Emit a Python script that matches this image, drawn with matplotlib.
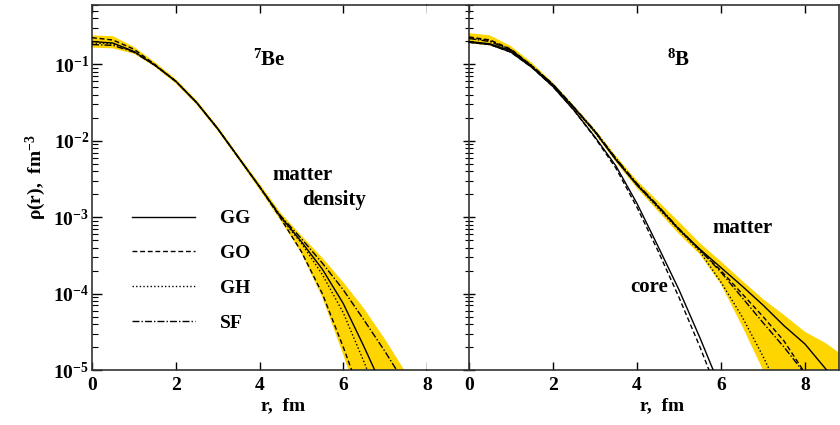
import numpy as np
import matplotlib
matplotlib.use("Agg")
import matplotlib.pyplot as plt
from matplotlib.ticker import LogLocator, NullFormatter, FixedLocator, FixedFormatter

plt.rcParams["font.family"] = ["Liberation Serif", "DejaVu Serif"]
plt.rcParams["font.weight"] = "bold"
plt.rcParams["mathtext.fontset"] = "custom"
plt.rcParams["mathtext.rm"] = "Liberation Serif:bold"
plt.rcParams["mathtext.bf"] = "Liberation Serif:bold"
plt.rcParams["mathtext.it"] = "Liberation Serif:bold:italic"
plt.rcParams["mathtext.default"] = "bf"

# ---- data: r in fm, log10 of rho in fm^-3 ----
# 7Be, matter density
be_r = [0, 0.5, 1.0, 1.5, 2.0, 2.5, 3.0, 3.5, 4.0, 4.5, 5.0, 5.5, 6.0, 6.5, 7.0, 7.5]
be_gg = [-0.70, -0.72, -0.83, -1.01, -1.22, -1.50, -1.84, -2.22, -2.60, -2.99, -3.32, -3.68, -4.13, -4.70, -5.30, -5.9]
be_go = [-0.65, -0.68, -0.80, -1.00, -1.22, -1.50, -1.84, -2.22, -2.60, -3.01, -3.45, -4.00, -4.70, -5.45, -6.1, -6.7]
be_gh = [-0.72, -0.73, -0.83, -1.01, -1.22, -1.50, -1.84, -2.22, -2.60, -3.00, -3.34, -3.75, -4.25, -4.90, -5.6, -6.2]
be_sf = [-0.74, -0.75, -0.84, -1.01, -1.22, -1.50, -1.84, -2.22, -2.60, -2.98, -3.28, -3.60, -3.95, -4.35, -4.76, -5.20]
be_lo = [-0.78, -0.79, -0.86, -1.03, -1.25, -1.53, -1.87, -2.25, -2.64, -3.04, -3.47, -4.05, -4.80, -5.60, -6.3, -7.0]
be_hi = [-0.62, -0.63, -0.77, -0.97, -1.19, -1.47, -1.81, -2.19, -2.56, -2.94, -3.24, -3.53, -3.85, -4.20, -4.60, -5.04]

# 8B, matter density
b_r = [0, 0.5, 1.0, 1.5, 2.0, 2.5, 3.0, 3.5, 4.0, 4.5, 5.0, 5.5, 6.0, 6.5, 7.0, 7.5, 8.0, 8.5, 9.0]
b_gg = [-0.70, -0.73, -0.82, -1.03, -1.27, -1.57, -1.88, -2.25, -2.58, -2.86, -3.16, -3.42, -3.66, -3.90, -4.15, -4.42, -4.66, -4.99, -5.3]
b_go = [-0.64, -0.68, -0.80, -1.02, -1.26, -1.56, -1.88, -2.24, -2.57, -2.86, -3.16, -3.43, -3.70, -4.00, -4.30, -4.62, -5.04, -5.5, -6.0]
b_gh = [-0.65, -0.69, -0.81, -1.02, -1.27, -1.57, -1.89, -2.25, -2.58, -2.88, -3.17, -3.45, -3.85, -4.30, -4.82, -5.4, -6.0, -6.6, -7.2]
b_sf = [-0.66, -0.70, -0.81, -1.02, -1.26, -1.56, -1.87, -2.23, -2.56, -2.85, -3.15, -3.43, -3.72, -4.05, -4.38, -4.70, -5.05, -5.5, -6.0]
b_lo = [-0.72, -0.75, -0.84, -1.05, -1.29, -1.59, -1.91, -2.28, -2.62, -2.92, -3.22, -3.49, -3.88, -4.42, -5.00, -5.5, -6.0, -6.5, -7.0]
b_hi = [-0.59, -0.62, -0.76, -0.98, -1.24, -1.54, -1.85, -2.20, -2.52, -2.79, -3.06, -3.34, -3.58, -3.83, -4.07, -4.28, -4.50, -4.65, -4.85]

# 8B, core density
core_r = [0, 0.5, 1.0, 1.5, 2.0, 2.5, 3.0, 3.5, 4.0, 4.5, 5.0, 5.5, 6.0]
core_gg = [-0.71, -0.74, -0.84, -1.04, -1.29, -1.60, -1.95, -2.33, -2.82, -3.38, -3.95, -4.58, -5.25]
core_go = [-0.71, -0.74, -0.84, -1.04, -1.29, -1.60, -1.96, -2.36, -2.87, -3.44, -4.05, -4.70, -5.40]

models = ["GG", "GO", "GH", "SF"]
yticks = [1e-5, 1e-4, 1e-3, 1e-2, 1e-1]
ytick_labels = [r"$10^{-5}$", r"$10^{-4}$", r"$10^{-3}$", r"$10^{-2}$", r"$10^{-1}$"]
xticks = [0, 2, 4, 6, 8]

styles = {"GG": "-", "GO": (0, (3.5, 2.0)), "GH": (0, (1.0, 1.6)), "SF": (0, (5.0, 1.5, 1.0, 1.5))}
band_color = "#FFD500"
fs = 14


def rho(lg):
    return 10.0 ** np.array(lg)


fig = plt.figure(figsize=(8.4, 4.25), dpi=100)
bottom, height = 55 / 425, 365 / 425
ax1 = fig.add_axes([92 / 840, bottom, 335 / 840, height])
ax2 = fig.add_axes([427 / 840, bottom, 412 / 840, height])

# left: 7Be
ax1.fill_between(be_r, rho(be_lo), rho(be_hi), color=band_color, lw=0, zorder=1)
for name, lg in zip(models, [be_gg, be_go, be_gh, be_sf]):
    ax1.plot(be_r, rho(lg), color="black", lw=1.0, linestyle=styles[name], label=name, zorder=3)

# right: 8B
ax2.fill_between(b_r, rho(b_lo), rho(b_hi), color=band_color, lw=0, zorder=1)
for name, lg in zip(models, [b_gg, b_go, b_gh, b_sf]):
    ax2.plot(b_r, rho(lg), color="black", lw=1.0, linestyle=styles[name], zorder=3)
ax2.plot(core_r, rho(core_gg), color="black", lw=1.0, linestyle=styles["GG"], zorder=3)
ax2.plot(core_r, rho(core_go), color="black", lw=1.0, linestyle=styles["GO"], zorder=3)

for ax in (ax1, ax2):
    ax.set_yscale("log")
    ax.set_ylim(1e-5, 0.6)
    ax.yaxis.set_major_locator(FixedLocator(yticks))
    ax.yaxis.set_minor_locator(LogLocator(base=10, subs=np.arange(2, 10)))
    ax.yaxis.set_minor_formatter(NullFormatter())
    ax.set_xticks(xticks)
    ax.set_xticklabels([str(t) for t in xticks], fontsize=fs, fontweight="bold")
    ax.tick_params(axis="x", which="both", direction="in", top=True, length=6, width=1, pad=5)
    for sp in ax.spines.values():
        sp.set_linewidth(1.2)
        sp.set_color("#333333")
    ax.set_xlabel("r,  fm", fontsize=fs, fontweight="bold")
    ax.xaxis.set_label_coords(0.57, -0.075)

ax1.set_xlim(0, 8)
ax1.spines["right"].set_visible(False)
ax1.yaxis.set_major_formatter(FixedFormatter(ytick_labels))
ax1.tick_params(axis="y", which="major", direction="in", length=7, width=1, labelsize=fs, pad=2)
ax1.tick_params(axis="y", which="minor", direction="in", length=4, width=0.8)

ax2.set_xlim(-1, 8.81)
ax2.spines["left"].set_position(("data", 0))
ax2.tick_params(axis="y", which="major", direction="inout", length=9, width=1, labelleft=False)
ax2.tick_params(axis="y", which="minor", direction="inout", length=6, width=0.8, labelleft=False)

fig.text(36 / 840, 1 - 177 / 425, r"ρ(r),  fm$^{-3}$", rotation=90, ha="center", va="center",
         fontsize=fs, fontweight="bold")

ax1.text(0.48, 0.85, r"$^{7}$Be", transform=ax1.transAxes, fontsize=fs + 1, ha="left", va="center")
ax1.text(0.54, 0.534, "matter", transform=ax1.transAxes, fontsize=fs + 1, ha="left", va="center")
ax1.text(0.627, 0.466, "density", transform=ax1.transAxes, fontsize=fs + 1, ha="left", va="center")
ax2.text(0.583, 0.85, r"$^{8}$B", transform=ax2.transAxes, fontsize=fs + 1, ha="left", va="center")
ax2.text(0.694, 0.389, "matter", transform=ax2.transAxes, fontsize=fs + 1, ha="left", va="center")
ax2.text(0.493, 0.227, "core", transform=ax2.transAxes, fontsize=fs + 1, ha="left", va="center")

leg = ax1.legend(loc="upper left", bbox_to_anchor=(0.119, 0.439), frameon=False, fontsize=fs,
                 handlelength=3.24, handletextpad=1.29, labelspacing=0.89, borderpad=0, borderaxespad=0)
for t in leg.get_texts():
    t.set_fontweight("bold")

fig.savefig("out.png", dpi=100)
